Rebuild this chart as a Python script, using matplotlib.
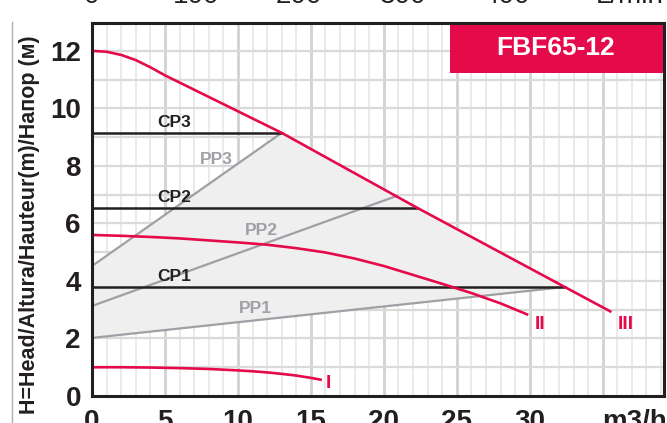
import matplotlib
matplotlib.use("Agg")
import matplotlib.pyplot as plt
import numpy as np
from matplotlib.patches import Rectangle
from matplotlib.lines import Line2D

plt.rcParams['font.family'] = ['Liberation Sans', 'DejaVu Sans']

RED = '#e50a4a'
BLACK = '#231f20'
GREY = '#a09fa6'

# curves (flow m3/h, head m)
q3 = [0, 1, 2, 3, 4, 5, 6, 7, 8, 9, 10, 11, 12, 13, 22.3, 32.4, 35.6]
h3 = [12.0, 11.97, 11.86, 11.68, 11.43, 11.15, 10.9, 10.65, 10.4, 10.15, 9.9, 9.65,
      9.4, 9.15, 6.54, 3.79, 2.92]
q2 = [0, 2, 4, 6, 8, 10, 12, 14, 16, 18, 20, 22, 24, 26, 28, 29.9]
h2 = [5.6, 5.57, 5.53, 5.48, 5.41, 5.34, 5.26, 5.14, 4.99, 4.78, 4.52, 4.21, 3.9,
      3.58, 3.22, 2.82]
q1 = [0, 2, 4, 6, 8, 10, 11, 12, 13, 14, 15, 15.75]
h1 = [1.0, 1.0, 0.99, 0.97, 0.94, 0.89, 0.86, 0.82, 0.77, 0.71, 0.63, 0.56]

# constant pressure levels and their end flows
cp_names = ['CP1', 'CP2', 'CP3']
cp_head = [3.79, 6.54, 9.15]
cp_end = [32.4, 22.3, 13.0]

# proportional pressure lines (start head, end point)
pp_names = ['PP1', 'PP2', 'PP3']
pp_start = [2.02, 3.13, 4.52]
pp_end_q = [32.4, 20.9, 13.0]
pp_end_h = [3.79, 6.96, 9.15]

x_ticks = [0, 5, 10, 15, 20, 25, 30]
y_ticks = [0, 2, 4, 6, 8, 10, 12]
lmin_ticks = [0, 100, 200, 300, 400]
LMIN_PER_M3H = 14.08

fig = plt.figure(figsize=(6.67, 4.23), dpi=100)
ax = fig.add_axes([92 / 667, 1 - 396 / 423, 572 / 667, (396 - 22.7) / 423])
ax.set_xlim(0, 39.2)
ax.set_ylim(0, 12.98)

# grid
for v in np.arange(1, 40, 1):
    major = v % 5 == 0
    ax.axvline(v, color='#d2d2d2' if major else '#e4e4e4',
               lw=2.0 if major else 1.1, zorder=0)
for v in np.arange(1, 13, 1):
    ax.axhline(v, color='#dadada', lw=1.6, zorder=0)

# shaded operating region
top_q = [q for q in q3 if pp_end_q[2] <= q <= cp_end[0]]
top_h = [h for q, h in zip(q3, h3) if pp_end_q[2] <= q <= cp_end[0]]
poly_q = [0, pp_end_q[0]] + top_q[::-1] + [0]
poly_h = [pp_start[0], pp_end_h[0]] + top_h[::-1] + [pp_start[2]]
ax.fill(poly_q, poly_h, color='#efefef', zorder=1, lw=0)

# PP lines
for s, eq, eh in zip(pp_start, pp_end_q, pp_end_h):
    ax.plot([0, eq], [s, eh], color=GREY, lw=1.6, zorder=2)
# CP lines
for h, e in zip(cp_head, cp_end):
    ax.plot([0, e], [h, h], color=BLACK, lw=1.8, zorder=3)
# pump curves
for q, h in [(q1, h1), (q2, h2), (q3, h3)]:
    ax.plot(q, h, color=RED, lw=1.9, zorder=4, solid_capstyle='butt')

# labels
for name, h in zip(cp_names, cp_head):
    ax.text(5.6, h + 0.1, name, color=BLACK, fontsize=12.5, fontweight='bold',
            ha='center', va='bottom', zorder=5)
pp_lab = [(11.2, 3.03), (11.6, 5.77), (8.55, 8.24)]
for name, (x, y) in zip(pp_names, pp_lab):
    ax.text(x, y, name, color=GREY, fontsize=12.5, fontweight='bold',
            ha='center', va='center', zorder=5)
ax.text(16.2, 0.45, 'I', color=RED, fontsize=14, fontweight='bold', ha='center', va='center', zorder=5)
ax.text(30.7, 2.47, 'II', color=RED, fontsize=14, fontweight='bold', ha='center', va='center', zorder=5)
ax.text(36.6, 2.47, 'III', color=RED, fontsize=14, fontweight='bold', ha='center', va='center', zorder=5)

# title box
box_h = (73 - 22.7) / (396 - 22.7)
ax.add_patch(Rectangle(((450 - 92) / 572, 1 - box_h), (664 - 450) / 572, box_h,
                       transform=ax.transAxes, color=RED, zorder=6, lw=0))
ax.text((556 - 92) / 572, 1 - (48 - 22.7) / (396 - 22.7), 'FBF65-12', transform=ax.transAxes,
        color='white', fontsize=19, fontweight='bold', ha='center', va='center', zorder=7)

# axes styling
for sp in ax.spines.values():
    sp.set_color(BLACK)
    sp.set_linewidth(2.2)
    sp.set_zorder(8)
ax.set_xticks(x_ticks + [37.2])
ax.set_xticklabels([str(t) for t in x_ticks] + ['m3/h'])
ax.set_yticks(y_ticks)
ax.set_yticklabels([str(t) for t in y_ticks])
ax.tick_params(axis='both', length=0, labelsize=20, colors=BLACK)
ax.tick_params(axis='x', pad=9)
ax.tick_params(axis='y', pad=8)
for lab in ax.get_xticklabels() + ax.get_yticklabels():
    lab.set_fontweight('bold')

sec = ax.secondary_xaxis('top', functions=(lambda x: x * LMIN_PER_M3H, lambda x: x / LMIN_PER_M3H))
sec.set_xticks(lmin_ticks + [36.85 * LMIN_PER_M3H])
sec.set_xticklabels([str(t) for t in lmin_ticks] + ['L/min'])
sec.tick_params(length=0, labelsize=20, colors=BLACK, pad=10)
sec.spines['top'].set_visible(False)

fig.text(30 / 667, 1 - 35 / 423, 'H=Head/Altura/Hauteur(m)/Напор (м)', rotation=90,
         ha='center', va='top', fontsize=15.5, fontweight='bold', color=BLACK)
fig.add_artist(Line2D([12 / 667, 12 / 667], [0, 1 - 22 / 423], transform=fig.transFigure,
                      color='#b0b0b0', lw=1))

fig.savefig('out.png', dpi=100)
